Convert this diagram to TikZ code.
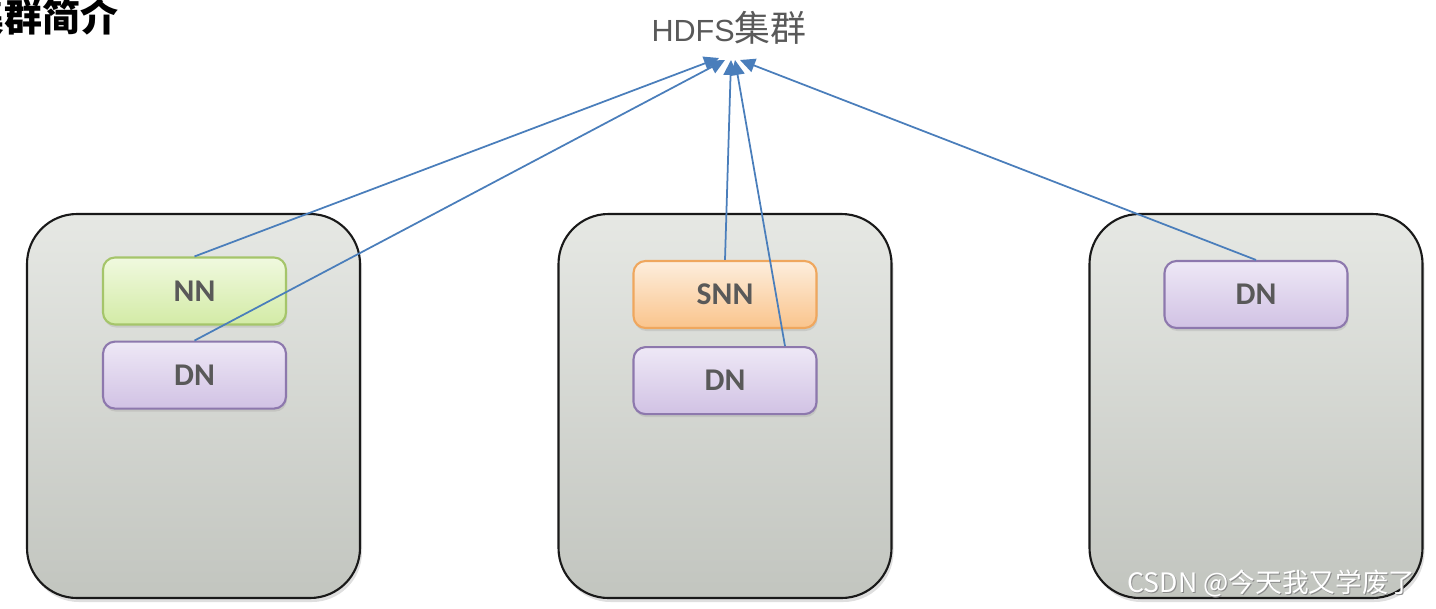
\documentclass[tikz,border=0pt]{standalone}
\usepackage{fontspec}
\setmainfont{Carlito}
\newfontfamily\cjk{Noto Sans CJK SC}
\newfontfamily\arial{Liberation Sans}
\usepackage{xcolor}
\definecolor{hostTop}{HTML}{E6E8E4}
\definecolor{hostBot}{HTML}{C2C5BF}
\definecolor{nnTop}{HTML}{F0F9DF}
\definecolor{nnBot}{HTML}{D3EBA6}
\definecolor{nnLine}{HTML}{A5C56A}
\definecolor{dnTop}{HTML}{EEE8F6}
\definecolor{dnBot}{HTML}{D1C2E4}
\definecolor{dnLine}{HTML}{8D78AD}
\definecolor{snnTop}{HTML}{FDEEDD}
\definecolor{snnBot}{HTML}{FAC48C}
\definecolor{snnLine}{HTML}{EFA75E}
\definecolor{labelGray}{HTML}{595959}
\definecolor{lineBlue}{HTML}{4A7EBB}
\usepackage{tikz}
\usetikzlibrary{arrows.meta,positioning,shadows}

\begin{document}
\begin{tikzpicture}[x=0.1mm,y=-0.1mm,
  host/.style={draw=black!90,line width=0.6pt,rounded corners=5mm,top color=hostTop,bottom color=hostBot,minimum width=33.3mm,minimum height=38.4mm,drop shadow={opacity=0.25,shadow xshift=0.2mm,shadow yshift=-0.4mm}},
  proc/.style={rounded corners=1.2mm,line width=0.6pt,minimum width=18.3mm,minimum height=6.7mm,text=labelGray,font=\fontsize{9}{10}\selectfont\bfseries,drop shadow={opacity=0.2,shadow xshift=0.1mm,shadow yshift=-0.3mm}},
  nnbox/.style={proc,draw=nnLine,top color=nnTop,bottom color=nnBot},
  dnbox/.style={proc,draw=dnLine,top color=dnTop,bottom color=dnBot},
  snnbox/.style={proc,draw=snnLine,top color=snnTop,bottom color=snnBot},
  arr/.style={-{Triangle[length=1.5mm,width=1.4mm]},line width=0.5pt,draw=lineBlue},
  node distance=1.5mm
]
\useasboundingbox (0,0) rectangle (1436,608);
\node[anchor=east,font=\cjk\bfseries\fontsize{10.8}{12}\selectfont] (title) at (131,17) {集群简介};
\node[text=labelGray,font=\arial\fontsize{8.7}{10}\selectfont] (hdfs) at (729,28) {HDFS{\cjk\fontsize{10.2}{11}\selectfont 集群}};
\node[host] (rack1) at (193.5,406) {};
\node[host] (rack2) at (725,406) {};
\node[host] (rack3) at (1256,406) {};
\node[nnbox] (nn) at (194.5,291) {NN};
\node[dnbox,below=of nn] (dn1) {DN};
\node[snnbox] (snn) at (725,294.5) {SNN};
\node[dnbox,below=1.7mm of snn] (dn2) {DN};
\node[dnbox] (dn3) at (1256,294.5) {DN};
\coordinate (in1) at (719,58); \coordinate (in2) at (725,60);
\coordinate (in3) at (731,60); \coordinate (in4) at (735,60);
\coordinate (in5) at (740,60);
\draw[arr] (nn.north)--(in1); \draw[arr] (dn1.north)--(in2);
\draw[arr] (snn.north)--(in3); \draw[arr] ([xshift=6mm]dn2.north)--(in4);
\draw[arr] (dn3.north)--(in5);
\node[anchor=east,text=black!45,font=\cjk\fontsize{7.6}{9}\selectfont] (markshade) at (1429,584) {CSDN @今天我又学废了};
\node[anchor=east,text=white,font=\cjk\fontsize{7.6}{9}\selectfont] (mark) at (1428,583) {CSDN @今天我又学废了};
\end{tikzpicture}
\end{document}
